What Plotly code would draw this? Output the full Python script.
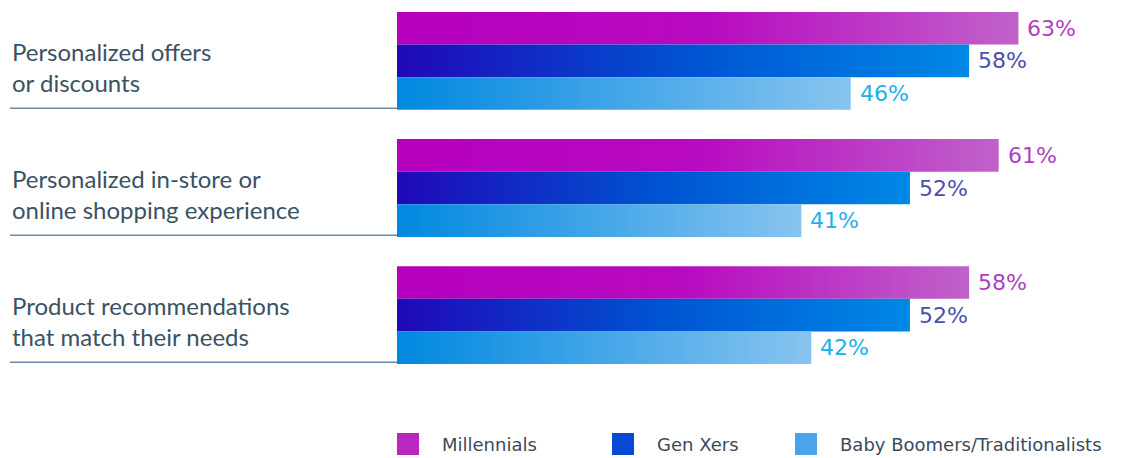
import plotly.graph_objects as go

categories = ["Personalized offers<br>or discounts",
              "Personalized in-store or<br>online shopping experience",
              "Product recommendations<br>that match their needs"]
series = ["Millennials", "Gen Xers", "Baby Boomers/Traditionalists"]
millennials = [63, 61, 58]
gen_xers = [58, 52, 52]
boomers = [46, 41, 42]
values = [millennials, gen_xers, boomers]

scales = [
    [[0, "#B500BE"], [0.5, "#B80AC0"], [1, "#C062CA"]],
    [[0, "#2008B8"], [0.5, "#0052D2"], [1, "#0088E6"]],
    [[0, "#0088E0"], [1, "#88C4F0"]],
]
swatch = ["#B828C0", "#0848D4", "#4AA4EC"]
label_colors = ["#B040C0", "#4A50B0", "#20B0E8"]

GAP = 3.9   # group spacing in bar heights
# page has an 8px body margin, so the figure is 1120x450
W, H = 1120, 450
L, R, T, B = 389, 6, 4, 94
PW = W - L - R
PH = H - T - B

fig = go.Figure()

for s, name in enumerate(series):
    for g, v in enumerate(values[s]):
        yc = g * GAP + s
        fig.add_trace(go.Scatter(
            x=[0, v, v, 0, 0], y=[yc - 0.5, yc - 0.5, yc + 0.5, yc + 0.5, yc - 0.5],
            mode="lines", line=dict(width=0), fill="toself",
            fillcolor=swatch[s],
            fillgradient=dict(type="horizontal", colorscale=scales[s]),
            name=name, showlegend=False, hoverinfo="skip",
        ))
        fig.add_annotation(
            x=v, y=yc, text=f"{v}%", showarrow=False, xanchor="left", xshift=7,
            font=dict(family="DejaVu Sans", size=22, color=label_colors[s]),
        )

for g, cat in enumerate(categories):
    fig.add_annotation(
        text=cat, xref="paper", x=-387 / PW, y=g * GAP + 1.18, yref="y",
        xanchor="left", yanchor="middle", align="left", showarrow=False,
        font=dict(family="Lato", size=24, color="#3A5264"),
    )
    fig.add_shape(type="line", xref="paper", yref="y",
                  x0=-387 / PW, x1=0, y0=g * GAP + 2.45, y1=g * GAP + 2.45,
                  line=dict(color="#6A8AA8", width=1.5))

# legend (positions in page px, relative to the plot's left/bottom edge)
leg_x = [397, 612, 795]
for s, name in enumerate(series):
    x0 = (leg_x[s] - 397) / PW
    fig.add_shape(type="rect", xref="paper", yref="paper",
                  x0=x0, x1=x0 + 22 / PW, y0=(364 - 455) / PH, y1=(364 - 433) / PH,
                  fillcolor=swatch[s], line=dict(width=0))
    fig.add_annotation(
        text=name, xref="paper", yref="paper", x=x0 + 43 / PW, y=(364 - 444) / PH,
        xanchor="left", yanchor="middle", showarrow=False,
        font=dict(family="DejaVu Sans", size=18, color="#3A4A5A"),
    )

fig.update_xaxes(range=[0, 73.5], visible=False)
fig.update_yaxes(range=[10.3, -0.5], visible=False)
fig.update_layout(
    width=W, height=H,
    margin=dict(l=L, r=R, t=T, b=B, autoexpand=False),
    plot_bgcolor="white", paper_bgcolor="white",
    showlegend=False,
)

fig.write_html("out.html")
